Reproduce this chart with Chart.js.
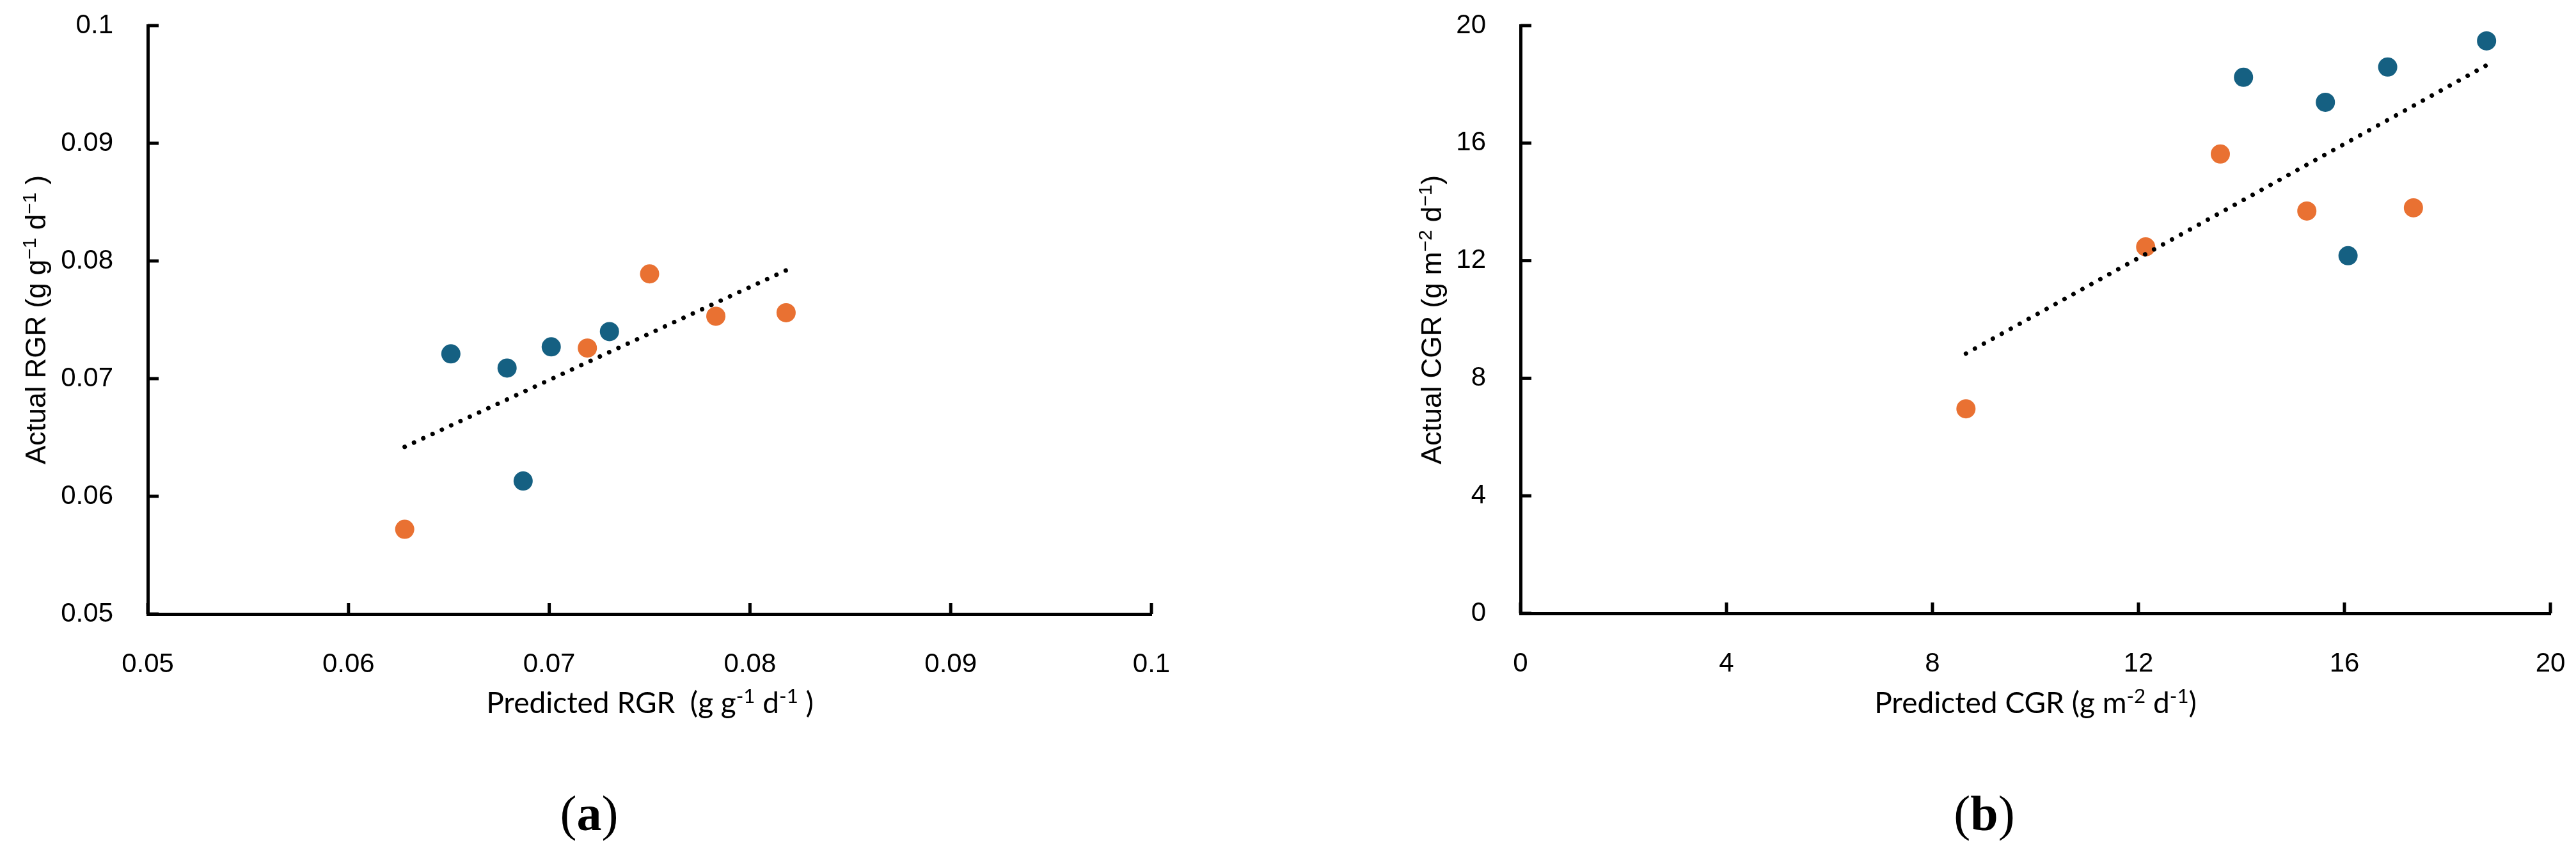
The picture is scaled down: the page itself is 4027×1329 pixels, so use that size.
<!DOCTYPE html>
<html>
<head>
<meta charset="utf-8">
<script src="https://cdn.jsdelivr.net/npm/chart.js@4/dist/chart.umd.min.js"></script>
<style>
  html, body { margin: 0; padding: 0; background: #fff; }
  body { width: 4027px; height: 1329px; position: relative; overflow: hidden; }
  .panel { position: absolute; top: 0; height: 1329px; }
  .panel canvas { position: absolute; left: 0; top: 0; }
  .ytitle {
    position: absolute; white-space: nowrap; line-height: 1;
    font-family: "Liberation Sans", Arial, sans-serif; font-size: 44px; color: #000;
    transform: translate(-50%, -50%) rotate(-90deg);
  }
  .xtitle {
    position: absolute; white-space: nowrap; line-height: 1;
    font-family: Lato, "Liberation Sans", sans-serif; font-size: 46px; color: #000;
    transform: translate(-50%, -50%);
  }
  .tag {
    position: absolute; white-space: nowrap; line-height: 1;
    font-family: "Liberation Serif", "Times New Roman", serif; font-size: 78px; color: #000;
    transform: translate(-50%, -50%);
  }
  sup { font-size: 0.68em; vertical-align: 0.5em; line-height: 0; }
</style>
</head>
<body>

<div class="panel" style="left:0; width:1900px;">
  <canvas id="rgrChart" width="1900" height="1329"></canvas>
  <div class="ytitle" style="left:56px; top:500px;">Actual RGR (g g<sup>−1</sup> d<sup>−1</sup> )</div>
  <div class="xtitle" style="left:1016px; top:1098px;">Predicted RGR&nbsp; (g g<sup>-1</sup> d<sup>-1</sup> )</div>
  <div class="tag" style="left:921px; top:1272px;">(<b>a</b>)</div>
</div>

<div class="panel" style="left:2100px; width:1927px;">
  <canvas id="cgrChart" width="1927" height="1329"></canvas>
  <div class="ytitle" style="left:138px; top:500px;">Actual CGR (g m<sup>−2</sup> d<sup>−1</sup>)</div>
  <div class="xtitle" style="left:1082px; top:1098px;">Predicted CGR (g m<sup>-2</sup> d<sup>-1</sup>)</div>
  <div class="tag" style="left:1002px; top:1272px;">(<b>b</b>)</div>
</div>

<script>
// Panel (a) RGR
const rgrTickValues = [0.05, 0.06, 0.07, 0.08, 0.09, 0.1];
const rgrTickLabels = ['0.05', '0.06', '0.07', '0.08', '0.09', '0.1'];
const rgrBlueX = [0.0651, 0.0679, 0.0701, 0.0730, 0.0687];
const rgrBlueY = [0.0721, 0.0709, 0.0727, 0.0740, 0.0613];
const rgrOrangeX = [0.0628, 0.0719, 0.0750, 0.0783, 0.0818];
const rgrOrangeY = [0.0572, 0.0726, 0.0789, 0.0753, 0.0756];
const rgrTrendX = [0.0628, 0.0818];
const rgrTrendY = [0.0642, 0.0792];

// Panel (b) CGR
const cgrTickValues = [0, 4, 8, 12, 16, 20];
const cgrTickLabels = ['0', '4', '8', '12', '16', '20'];
const cgrBlueX = [14.04, 15.63, 16.84, 18.76, 16.07];
const cgrBlueY = [18.24, 17.39, 18.59, 19.48, 12.17];
const cgrOrangeX = [8.65, 12.14, 13.59, 15.27, 17.34];
const cgrOrangeY = [6.96, 12.47, 15.63, 13.69, 13.80];
const cgrTrendX = [8.65, 18.76];
const cgrTrendY = [8.84, 18.65];

const BLUE = '#156082';
const ORANGE = '#E97132';
const TICK_FONT = { family: '"Liberation Sans", Arial, sans-serif', size: 42 };

const toPoints = (xs, ys) => xs.map((x, i) => ({ x: x, y: ys[i] }));

// tick marks pointing into the plot area, like the original
const inwardTicks = {
  id: 'inwardTicks',
  afterDraw(chart) {
    const { ctx, chartArea, scales } = chart;
    ctx.save();
    ctx.strokeStyle = '#000';
    ctx.lineWidth = 5;
    scales.x.ticks.forEach(t => {
      const px = scales.x.getPixelForValue(t.value);
      ctx.beginPath();
      ctx.moveTo(px, chartArea.bottom);
      ctx.lineTo(px, chartArea.bottom - 17);
      ctx.stroke();
    });
    scales.y.ticks.forEach(t => {
      const py = scales.y.getPixelForValue(t.value);
      ctx.beginPath();
      ctx.moveTo(chartArea.left, py);
      ctx.lineTo(chartArea.left + 17, py);
      ctx.stroke();
    });
    ctx.restore();
  }
};

function axis(values, labels, fit) {
  return {
    type: 'linear',
    min: values[0],
    max: values[values.length - 1],
    grid: { display: false },
    border: { display: true, color: '#000', width: 5 },
    afterBuildTicks: scale => { scale.ticks = values.map(v => ({ value: v })); },
    afterFit: scale => {
      // no extra room for overhanging labels: the plot box is fixed by the layout padding
      scale.paddingTop = 0;
      scale.paddingBottom = 0;
      scale.paddingLeft = 0;
      scale.paddingRight = 0;
      fit(scale);
    },
    ticks: {
      color: '#000',
      font: TICK_FONT,
      padding: 46,
      autoSkip: false,
      maxRotation: 0,
      callback: (value, index) => labels[index]
    }
  };
}

function crearGrafica(id, d) {
  const ctx = document.getElementById(id).getContext('2d');
  return new Chart(ctx, {
    type: 'scatter',
    data: {
      datasets: [
        {
          type: 'line',
          data: toPoints(d.trendX, d.trendY),
          borderColor: '#000',
          borderWidth: 7,
          borderCapStyle: 'round',
          borderDash: [0.01, 16],
          pointRadius: 0,
          fill: false,
          order: 0
        },
        {
          data: toPoints(d.blueX, d.blueY),
          backgroundColor: BLUE,
          borderColor: BLUE,
          borderWidth: 0,
          pointRadius: 15,
          order: 1
        },
        {
          data: toPoints(d.orangeX, d.orangeY),
          backgroundColor: ORANGE,
          borderColor: ORANGE,
          borderWidth: 0,
          pointRadius: 15,
          order: 2
        }
      ]
    },
    options: {
      responsive: false,
      animation: false,
      devicePixelRatio: 1,
      layout: { padding: { left: 0, right: d.padRight, top: 40, bottom: 0 } },
      plugins: { legend: { display: false }, tooltip: { enabled: false } },
      scales: {
        x: axis(d.xTicks, d.xLabels, s => { s.height = d.xHeight; }),
        y: axis(d.yTicks, d.yLabels, s => { s.width = d.yWidth; })
      }
    },
    plugins: [inwardTicks]
  });
}

crearGrafica('rgrChart', {
  trendX: rgrTrendX, trendY: rgrTrendY,
  blueX: rgrBlueX, blueY: rgrBlueY,
  orangeX: rgrOrangeX, orangeY: rgrOrangeY,
  xTicks: rgrTickValues, xLabels: rgrTickLabels,
  yTicks: rgrTickValues, yLabels: rgrTickLabels,
  yWidth: 231, xHeight: 369, padRight: 100
});

crearGrafica('cgrChart', {
  trendX: cgrTrendX, trendY: cgrTrendY,
  blueX: cgrBlueX, blueY: cgrBlueY,
  orangeX: cgrOrangeX, orangeY: cgrOrangeY,
  xTicks: cgrTickValues, xLabels: cgrTickLabels,
  yTicks: cgrTickValues, yLabels: cgrTickLabels,
  yWidth: 277, xHeight: 370, padRight: 40
});
</script>
</body>
</html>
